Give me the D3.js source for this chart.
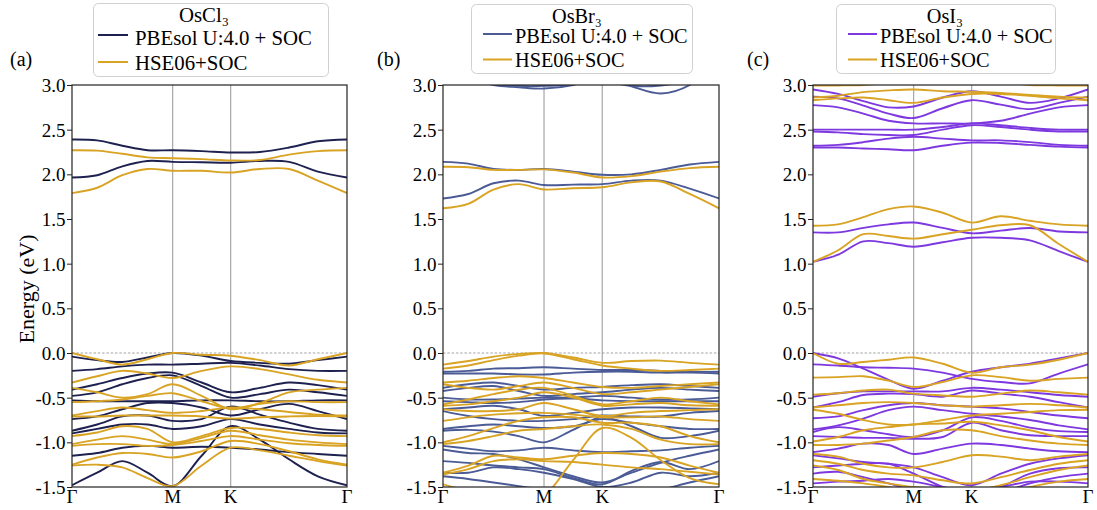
<!DOCTYPE html>
<html><head><meta charset="utf-8">
<script src="https://cdn.jsdelivr.net/npm/d3@7"></script>
<style>
body{margin:0;background:#fff}
svg{display:block}
text{font-family:"Liberation Serif","Times New Roman",Times,serif;fill:#000}
</style></head>
<body><svg id="chart" width="1097" height="510"></svg>
<script>
// ---------- DATA ----------
// k-path sample positions (fraction of Γ-M-K-Γ path)
const kPath = [0, 0.0915, 0.183, 0.2745, 0.366, 0.4715, 0.577, 0.683, 0.789, 0.894, 1.0];
const kTickPos = [0, 0.366, 0.577, 1.0];
const kTickLabels = ["Γ", "M", "K", "Γ"];
const yTicks = [3.0, 2.5, 2.0, 1.5, 1.0, 0.5, 0.0, -0.5, -1.0, -1.5];
const panelLabels = ["(a)", "(b)", "(c)"];
const compounds = ["OsCl₃", "OsBr₃", "OsI₃"];
const seriesNames = ["PBEsol U:4.0 + SOC", "HSE06+SOC"];

// OsCl3 bands (eV)
const oscl3_pbe = [
  [2.39, 2.38, 2.32, 2.27, 2.27, 2.26, 2.245, 2.25, 2.30, 2.37, 2.39],
  [1.965, 1.99, 2.09, 2.15, 2.14, 2.135, 2.13, 2.15, 2.14, 2.03, 1.965],
  [-0.04, -0.08, -0.10, -0.05, 0.00, -0.03, -0.09, -0.11, -0.12, -0.08, -0.04],
  [-0.20, -0.18, -0.15, -0.13, -0.13, -0.12, -0.11, -0.14, -0.18, -0.20, -0.20],
  [-0.41, -0.35, -0.28, -0.23, -0.22, -0.33, -0.44, -0.39, -0.33, -0.36, -0.41],
  [-0.48, -0.44, -0.35, -0.28, -0.25, -0.37, -0.50, -0.46, -0.41, -0.44, -0.48],
  [-0.53, -0.54, -0.54, -0.54, -0.54, -0.53, -0.53, -0.54, -0.54, -0.53, -0.53],
  [-0.74, -0.71, -0.63, -0.56, -0.56, -0.61, -0.70, -0.63, -0.57, -0.65, -0.74],
  [-0.87, -0.80, -0.71, -0.70, -0.76, -0.74, -0.60, -0.69, -0.78, -0.85, -0.87],
  [-0.90, -0.85, -0.80, -0.80, -0.85, -0.82, -0.74, -0.80, -0.85, -0.89, -0.90],
  [-1.15, -1.12, -1.06, -1.04, -1.06, -1.05, -1.06, -1.08, -1.11, -1.13, -1.15],
  [-1.48, -1.34, -1.21, -1.34, -1.49, -1.15, -0.82, -0.97, -1.19, -1.38, -1.48]
];
const oscl3_hse = [
  [2.27, 2.265, 2.23, 2.19, 2.18, 2.17, 2.155, 2.16, 2.22, 2.26, 2.27],
  [1.79, 1.85, 1.99, 2.06, 2.04, 2.04, 2.02, 2.06, 2.06, 1.93, 1.79],
  [0.00, -0.07, -0.13, -0.07, 0.00, -0.02, -0.03, -0.08, -0.14, -0.07, 0.00],
  [-0.33, -0.26, -0.20, -0.23, -0.28, -0.20, -0.15, -0.18, -0.24, -0.30, -0.33],
  [-0.39, -0.44, -0.50, -0.46, -0.35, -0.48, -0.63, -0.56, -0.44, -0.41, -0.39],
  [-0.55, -0.54, -0.52, -0.48, -0.45, -0.54, -0.62, -0.57, -0.54, -0.55, -0.55],
  [-0.70, -0.65, -0.61, -0.64, -0.67, -0.65, -0.61, -0.63, -0.66, -0.69, -0.70],
  [-0.71, -0.71, -0.70, -0.70, -0.70, -0.71, -0.735, -0.72, -0.71, -0.705, -0.71],
  [-0.93, -0.89, -0.82, -0.85, -1.00, -0.93, -0.84, -0.85, -0.89, -0.92, -0.93],
  [-1.02, -0.97, -0.93, -0.97, -1.02, -0.95, -0.87, -0.92, -0.97, -1.00, -1.02],
  [-1.04, -1.02, -1.02, -1.04, -1.03, -0.985, -0.93, -0.97, -1.01, -1.03, -1.04],
  [-1.25, -1.17, -1.12, -1.13, -1.17, -1.10, -0.985, -1.02, -1.10, -1.19, -1.25],
  [-1.26, -1.25, -1.28, -1.40, -1.49, -1.26, -1.06, -1.09, -1.15, -1.21, -1.26]
];

// OsBr3 bands (eV)
const osbr3_pbe = [
  [3.2, 3.12, 3.01, 2.99, 2.99, 3.01, 3.1, 3.15, 3.15, 3.18, 3.2],
  [3.15, 3.08, 3.0, 2.975, 2.96, 3.0, 3.1, 3.12, 3.12, 3.13, 3.15],
  [3.25, 3.2, 3.15, 3.12, 3.1, 3.08, 3.05, 2.99, 2.995, 3.06, 3.25],
  [3.3, 3.25, 3.2, 3.18, 3.15, 3.12, 3.1, 2.985, 2.905, 3.0, 3.3],
  [2.14, 2.12, 2.06, 2.05, 2.06, 2.03, 1.995, 2.0, 2.05, 2.11, 2.14],
  [1.73, 1.78, 1.90, 1.93, 1.88, 1.885, 1.89, 1.93, 1.93, 1.84, 1.73],
  [-0.21, -0.20, -0.175, -0.17, -0.16, -0.175, -0.19, -0.19, -0.20, -0.21, -0.21],
  [-0.23, -0.23, -0.23, -0.24, -0.24, -0.22, -0.21, -0.21, -0.22, -0.22, -0.23],
  [-0.39, -0.35, -0.33, -0.37, -0.41, -0.39, -0.38, -0.36, -0.35, -0.37, -0.39],
  [-0.425, -0.39, -0.37, -0.425, -0.48, -0.46, -0.44, -0.41, -0.39, -0.41, -0.425],
  [-0.50, -0.52, -0.52, -0.51, -0.50, -0.50, -0.48, -0.50, -0.52, -0.52, -0.50],
  [-0.54, -0.55, -0.56, -0.55, -0.52, -0.51, -0.53, -0.54, -0.54, -0.54, -0.54],
  [-0.63, -0.61, -0.59, -0.63, -0.705, -0.67, -0.63, -0.61, -0.61, -0.62, -0.63],
  [-0.65, -0.705, -0.74, -0.76, -0.76, -0.74, -0.70, -0.71, -0.71, -0.67, -0.65],
  [-0.85, -0.82, -0.80, -0.82, -0.84, -0.82, -0.74, -0.78, -0.82, -0.85, -0.85],
  [-0.87, -0.86, -0.88, -0.93, -1.00, -0.86, -0.72, -0.82, -0.95, -0.93, -0.87],
  [-1.04, -1.07, -1.10, -1.09, -1.06, -1.09, -1.11, -1.10, -1.09, -1.06, -1.04],
  [-1.08, -1.12, -1.13, -1.19, -1.28, -1.38, -1.45, -1.34, -1.23, -1.15, -1.08],
  [-1.21, -1.23, -1.26, -1.28, -1.30, -1.40, -1.47, -1.32, -1.22, -1.30, -1.21],
  [-1.34, -1.34, -1.28, -1.30, -1.34, -1.41, -1.50, -1.45, -1.34, -1.38, -1.34],
  [-1.38, -1.41, -1.45, -1.49, -1.53, -1.56, -1.60, -1.58, -1.53, -1.45, -1.38]
];
const osbr3_hse = [
  [2.085, 2.08, 2.05, 2.05, 2.055, 2.02, 1.965, 1.98, 2.03, 2.07, 2.085],
  [1.62, 1.67, 1.83, 1.89, 1.83, 1.845, 1.855, 1.91, 1.92, 1.78, 1.62],
  [-0.13, -0.09, -0.04, -0.01, 0.00, -0.05, -0.11, -0.09, -0.085, -0.11, -0.13],
  [-0.175, -0.14, -0.08, -0.03, -0.005, -0.07, -0.14, -0.175, -0.20, -0.19, -0.175],
  [-0.33, -0.31, -0.28, -0.26, -0.28, -0.33, -0.38, -0.39, -0.37, -0.35, -0.33],
  [-0.35, -0.39, -0.41, -0.37, -0.33, -0.39, -0.46, -0.44, -0.41, -0.38, -0.35],
  [-0.575, -0.52, -0.46, -0.41, -0.39, -0.48, -0.575, -0.54, -0.50, -0.54, -0.575],
  [-0.59, -0.575, -0.54, -0.50, -0.44, -0.50, -0.59, -0.575, -0.56, -0.585, -0.59],
  [-0.63, -0.65, -0.65, -0.63, -0.56, -0.63, -0.705, -0.67, -0.65, -0.64, -0.63],
  [-0.76, -0.72, -0.69, -0.675, -0.67, -0.69, -0.72, -0.72, -0.71, -0.74, -0.76],
  [-1.00, -0.93, -0.84, -0.76, -0.72, -0.72, -0.78, -0.78, -0.82, -0.93, -1.00],
  [-1.02, -0.985, -0.93, -0.87, -0.85, -0.82, -0.80, -0.85, -0.97, -1.02, -1.02],
  [-1.34, -1.26, -1.15, -1.17, -1.19, -1.15, -1.12, -1.13, -1.17, -1.26, -1.34],
  [-1.36, -1.30, -1.21, -1.19, -1.21, -1.22, -1.25, -1.28, -1.30, -1.33, -1.36],
  [-1.47, -1.55, -1.65, -1.70, -1.60, -1.20, -0.84, -0.95, -1.20, -1.40, -1.47]
];

// OsI3 bands (eV)
const osi3_pbe = [
  [2.95, 2.90, 2.82, 2.75, 2.76, 2.86, 2.93, 2.87, 2.80, 2.85, 2.95],
  [2.87, 2.85, 2.77, 2.68, 2.63, 2.74, 2.83, 2.78, 2.73, 2.80, 2.87],
  [2.775, 2.75, 2.68, 2.60, 2.57, 2.57, 2.57, 2.60, 2.68, 2.75, 2.775],
  [2.50, 2.50, 2.50, 2.50, 2.50, 2.53, 2.57, 2.55, 2.52, 2.50, 2.50],
  [2.48, 2.47, 2.45, 2.44, 2.44, 2.50, 2.55, 2.53, 2.50, 2.48, 2.48],
  [2.32, 2.33, 2.36, 2.40, 2.42, 2.40, 2.38, 2.38, 2.36, 2.33, 2.32],
  [2.30, 2.30, 2.29, 2.28, 2.27, 2.32, 2.355, 2.35, 2.33, 2.31, 2.30],
  [1.35, 1.35, 1.40, 1.44, 1.46, 1.40, 1.34, 1.37, 1.40, 1.36, 1.35],
  [1.02, 1.10, 1.25, 1.23, 1.19, 1.24, 1.29, 1.29, 1.26, 1.14, 1.02],
  [0.00, -0.06, -0.175, -0.30, -0.40, -0.31, -0.21, -0.16, -0.12, -0.06, 0.00],
  [-0.127, -0.14, -0.16, -0.165, -0.175, -0.22, -0.29, -0.325, -0.34, -0.23, -0.127],
  [-0.49, -0.45, -0.43, -0.43, -0.43, -0.43, -0.39, -0.41, -0.44, -0.47, -0.49],
  [-0.61, -0.55, -0.47, -0.455, -0.46, -0.49, -0.42, -0.455, -0.49, -0.55, -0.61],
  [-0.73, -0.71, -0.64, -0.585, -0.56, -0.585, -0.60, -0.62, -0.66, -0.70, -0.73],
  [-0.855, -0.81, -0.735, -0.64, -0.60, -0.64, -0.68, -0.71, -0.75, -0.81, -0.855],
  [-0.885, -0.83, -0.865, -0.91, -0.94, -0.865, -0.72, -0.76, -0.835, -0.875, -0.885],
  [-0.93, -0.94, -0.95, -0.95, -0.96, -0.94, -0.78, -0.865, -0.92, -0.93, -0.93],
  [-1.11, -1.07, -1.015, -1.03, -1.13, -1.07, -1.015, -1.03, -1.07, -1.10, -1.11],
  [-1.145, -1.18, -1.22, -1.24, -1.28, -1.39, -1.48, -1.35, -1.24, -1.18, -1.145],
  [-1.28, -1.26, -1.24, -1.24, -1.35, -1.50, -1.61, -1.50, -1.35, -1.29, -1.28],
  [-1.35, -1.33, -1.39, -1.46, -1.54, -1.61, -1.69, -1.57, -1.46, -1.39, -1.35],
  [-1.46, -1.44, -1.43, -1.41, -1.44, -1.50, -1.54, -1.50, -1.44, -1.44, -1.46]
];
const osi3_hse = [
  [2.995, 2.995, 3.0, 3.02, 3.03, 3.02, 3.02, 3.03, 3.0, 2.995, 2.995],
  [2.86, 2.88, 2.92, 2.94, 2.95, 2.93, 2.925, 2.91, 2.89, 2.87, 2.86],
  [2.83, 2.85, 2.86, 2.83, 2.80, 2.86, 2.90, 2.90, 2.88, 2.85, 2.83],
  [1.425, 1.44, 1.52, 1.61, 1.64, 1.57, 1.46, 1.53, 1.48, 1.44, 1.425],
  [1.02, 1.15, 1.33, 1.31, 1.28, 1.33, 1.38, 1.43, 1.43, 1.22, 1.02],
  [0.00, -0.12, -0.10, -0.075, -0.05, -0.12, -0.22, -0.16, -0.13, -0.075, 0.00],
  [-0.276, -0.27, -0.26, -0.31, -0.38, -0.325, -0.25, -0.27, -0.31, -0.29, -0.276],
  [-0.466, -0.45, -0.42, -0.41, -0.455, -0.475, -0.49, -0.455, -0.42, -0.44, -0.466],
  [-0.61, -0.585, -0.56, -0.55, -0.56, -0.585, -0.60, -0.585, -0.57, -0.585, -0.61],
  [-0.635, -0.68, -0.75, -0.80, -0.80, -0.75, -0.70, -0.68, -0.66, -0.64, -0.635],
  [-0.99, -0.94, -0.865, -0.83, -0.80, -0.79, -0.77, -0.81, -0.865, -0.94, -0.99],
  [-1.03, -1.03, -1.015, -0.98, -0.94, -0.865, -0.865, -0.93, -0.98, -1.015, -1.03],
  [-1.13, -1.16, -1.24, -1.28, -1.28, -1.22, -1.145, -1.16, -1.20, -1.16, -1.13],
  [-1.20, -1.24, -1.31, -1.35, -1.37, -1.425, -1.46, -1.39, -1.31, -1.24, -1.20],
  [-1.26, -1.31, -1.41, -1.46, -1.50, -1.52, -1.54, -1.48, -1.39, -1.31, -1.26],
  [-1.41, -1.43, -1.46, -1.50, -1.54, -1.57, -1.61, -1.57, -1.50, -1.44, -1.41]
];

const pbeColors = ["#1e2150", "#4b5b96", "#7e38e0"];
const hseColor = "#d9a323";

// ---------- LAYOUT ----------
const panels = [
  {x0: 72, x1: 347, pbe: oscl3_pbe, hse: oscl3_hse,
   lab: {x: 10, y: 66}, leg: {x: 93, y: 3, w: 235, h: 73, tx: 204, fs: 20.8, lx0: 98, lx1: 128, txt: 135, ty: 22, r1: 44.5, r2: 70, l1: 35, l2: 62}},
  {x0: 443, x1: 719, pbe: osbr3_pbe, hse: osbr3_hse,
   lab: {x: 377, y: 66}, leg: {x: 471, y: 4, w: 221, h: 69, tx: 577, fs: 20.3, lx0: 483, lx1: 512, txt: 515, ty: 22.5, r1: 42.5, r2: 66.5, l1: 34, l2: 59.5}},
  {x0: 813, x1: 1088, pbe: osi3_pbe, hse: osi3_hse,
   lab: {x: 747, y: 66}, leg: {x: 836, y: 4, w: 219, h: 69, tx: 945, fs: 20.3, lx0: 848, lx1: 877, txt: 880, ty: 22.5, r1: 42.5, r2: 66.5, l1: 34, l2: 59.5}}
];
const plotTop = 85, plotBottom = 487;

const svg = d3.select("#chart");
const y = d3.scaleLinear().domain([-1.5, 3.0]).range([plotBottom, plotTop]);

panels.forEach((p, i) => {
  const x = d3.scaleLinear().domain([0, 1]).range([p.x0, p.x1]);
  const g = svg.append("g");
  const clipId = "clip" + i;
  svg.append("clipPath").attr("id", clipId).append("rect")
    .attr("x", p.x0).attr("y", plotTop).attr("width", p.x1 - p.x0).attr("height", plotBottom - plotTop);

  // high-symmetry vertical lines
  g.selectAll("line.vk").data(kTickPos.slice(1, 3)).join("line")
    .attr("x1", d => x(d)).attr("x2", d => x(d)).attr("y1", plotTop).attr("y2", plotBottom)
    .attr("stroke", "#a6a6a6").attr("stroke-width", 1.2);
  // Fermi level
  g.append("line").attr("x1", p.x0).attr("x2", p.x1).attr("y1", y(0)).attr("y2", y(0))
    .attr("stroke", "#999").attr("stroke-width", 0.9).attr("stroke-dasharray", "2.5,1.8");

  const line = d3.line().x((d, j) => x(kPath[j])).y(d => y(d)).curve(d3.curveCatmullRom.alpha(0.5));
  const bg = g.append("g").attr("clip-path", `url(#${clipId})`);
  bg.selectAll("path.pbe").data(p.pbe).join("path")
    .attr("d", line).attr("fill", "none").attr("stroke", pbeColors[i]).attr("stroke-width", 1.9);
  bg.selectAll("path.hse").data(p.hse).join("path")
    .attr("d", line).attr("fill", "none").attr("stroke", hseColor).attr("stroke-width", 1.9);

  // frame
  g.append("rect").attr("x", p.x0).attr("y", plotTop).attr("width", p.x1 - p.x0).attr("height", plotBottom - plotTop)
    .attr("fill", "none").attr("stroke", "#222").attr("stroke-width", 1.2);

  // y axis
  const ya = g.append("g").attr("transform", `translate(${p.x0},0)`)
    .call(d3.axisLeft(y).tickValues(yTicks).tickFormat(d => d.toFixed(1)).tickSize(5).tickSizeOuter(0).tickPadding(1.5));
  ya.select(".domain").remove();
  ya.attr("font-family", null);
  ya.selectAll("line").attr("stroke", "#222");
  ya.selectAll("text").style("font-family", '"Liberation Serif", serif').style("font-size", "19px").attr("dy", "0.34em");

  // x labels
  g.selectAll("text.kl").data(kTickPos).join("text")
    .attr("x", d => x(d)).attr("y", 503).attr("text-anchor", "middle")
    .style("font-size", "19px").text((d, j) => kTickLabels[j]);

  // panel label
  g.append("text").attr("x", p.lab.x).attr("y", p.lab.y).style("font-size", "20px").text(panelLabels[i]);

  // legend
  const L = p.leg;
  g.append("rect").attr("x", L.x + 0.5).attr("y", L.y + 0.5).attr("width", L.w).attr("height", L.h)
    .attr("rx", 5).attr("fill", "#fff").attr("fill-opacity", 0.85).attr("stroke", "#d0d0d0").attr("stroke-width", 1);
  g.append("text").attr("x", L.tx).attr("y", L.ty).attr("text-anchor", "middle")
    .style("font-size", L.fs + "px").text(compounds[i]);
  [[L.l1, L.r1, pbeColors[i]], [L.l2, L.r2, hseColor]].forEach((r, j) => {
    g.append("line").attr("x1", L.lx0).attr("x2", L.lx1).attr("y1", r[0]).attr("y2", r[0])
      .attr("stroke", r[2]).attr("stroke-width", 2);
    g.append("text").attr("x", L.txt).attr("y", r[1]).style("font-size", L.fs + "px").text(seriesNames[j]);
  });
});

// y-axis title
svg.append("text").attr("transform", `translate(34,289) rotate(-90)`).attr("text-anchor", "middle")
  .style("font-size", "22px").text("Energy (eV)");
</script>
</body></html>
